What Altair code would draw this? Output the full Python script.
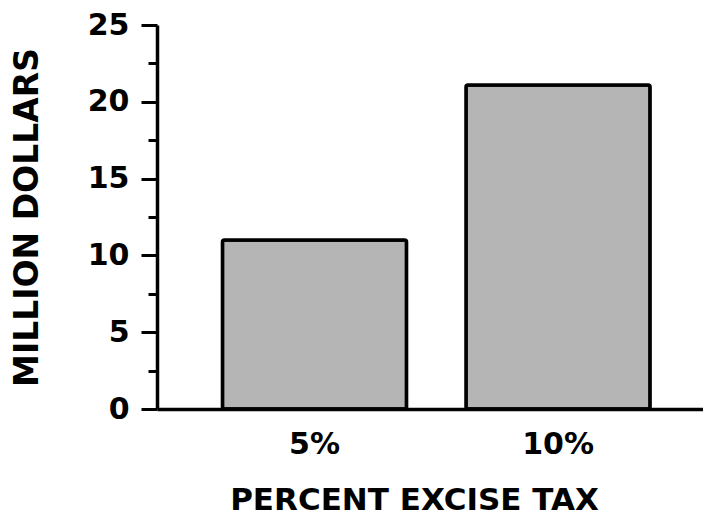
import altair as alt
import pandas as pd

categories = ["5%", "10%"]
values = [11.0, 21.1]
y_ticks = [0, 2.5, 5, 7.5, 10, 12.5, 15, 17.5, 20, 22.5, 25]

df = pd.DataFrame({"tax": categories, "dollars": values})

FONT = "DejaVu Sans"

chart = alt.Chart(df).mark_bar(
    fill="#b5b5b5", stroke="black", strokeWidth=3.5, cornerRadius=2
).encode(
    x=alt.X(
        "tax:N",
        sort=categories,
        scale=alt.Scale(paddingInner=0.244, paddingOuter=0.243, align=0.553),
        axis=alt.Axis(
            title="PERCENT EXCISE TAX",
            labelAngle=0,
            ticks=False,
            domainWidth=3.5,
            domainColor="black",
            labelFont=FONT,
            labelFontWeight="bold",
            labelFontSize=30,
            labelColor="black",
            labelPadding=20,
            titleFont=FONT,
            titleFontWeight="bold",
            titleFontSize=31,
            titleColor="black",
            titleX=257,
            titleY=100,
            titleAlign="center",
            titleBaseline="alphabetic",
        ),
    ),
    y=alt.Y(
        "dollars:Q",
        scale=alt.Scale(domain=[0, 25], nice=False),
        axis=alt.Axis(
            title="MILLION DOLLARS",
            values=y_ticks,
            labelExpr="datum.value % 5 === 0 ? datum.label : ''",
            tickSize={"condition": {"test": "datum.value % 5 === 0", "value": 16}, "value": 9},
            tickWidth=3,
            tickColor="black",
            domainWidth=3.5,
            domainColor="black",
            grid=False,
            labelFont=FONT,
            labelFontWeight="bold",
            labelFontSize=30,
            labelColor="black",
            labelPadding=12,
            titleFont=FONT,
            titleFontWeight="bold",
            titleFontSize=33,
            titleColor="black",
            titleAngle=-90,
            titleX=-120,
            titleY=192,
            titleAlign="center",
            titleBaseline="alphabetic",
        ),
    ),
).properties(
    width=546,
    height=384,
    autosize=alt.AutoSizeParams(type="none"),
    padding={"left": 149, "top": 17, "right": 0, "bottom": 108},
    background="white",
).configure_view(stroke=None)

chart.save("out.html", embed_options={"renderer": "svg", "actions": False})
